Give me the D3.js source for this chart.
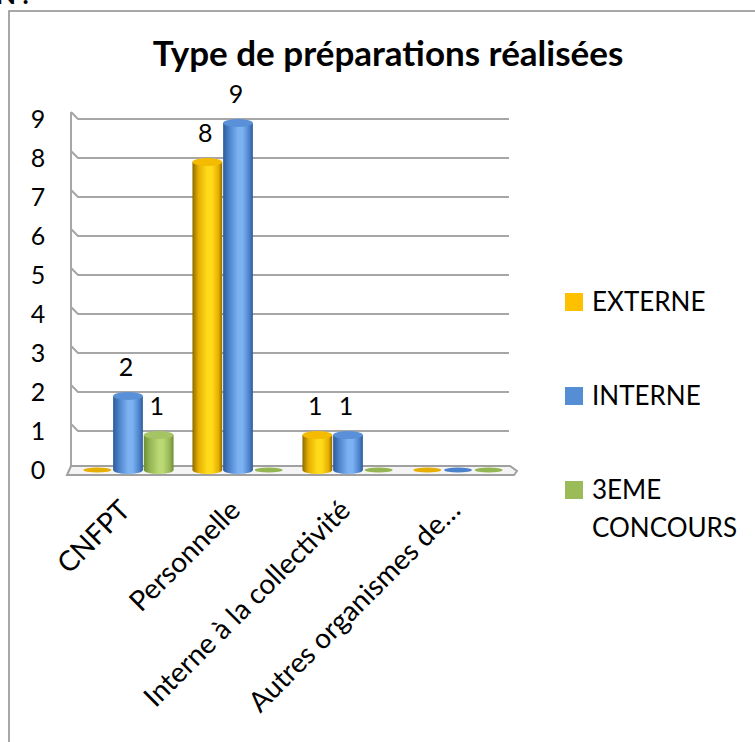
<!DOCTYPE html>
<html>
<head>
<meta charset="utf-8">
<script src="https://cdn.jsdelivr.net/npm/d3@7"></script>
<style>
    body { margin: 0; background: #fff; }
    svg { display: block; font-family: Lato, "Open Sans", sans-serif; }
</style>
</head>
<body>
<div id="chart"></div>
<script>
// données du graphique
const categories = ["CNFPT", "Personnelle", "Interne à la collectivité", "Autres organismes de…"];
const seriesNames = ["EXTERNE", "INTERNE", "3EME CONCOURS"];
const externe = [0, 8, 1, 0];
const interne = [2, 9, 1, 0];
const troisieme = [1, 0, 0, 0];
const yTicks = [0, 1, 2, 3, 4, 5, 6, 7, 8, 9];

const seriesValues = [externe, interne, troisieme];

// couleurs des cylindres
const palette = [
    { dark: "#8c6a00", mid: "#e6ae00", light: "#ffdb1a", flat: "#ffc000", cap: "#f5bb00" },
    { dark: "#2d5b98", mid: "#4c82cb", light: "#7db2f2", flat: "#558ed5", cap: "#5a90d8" },
    { dark: "#6f8d35", mid: "#93b552", light: "#bad874", flat: "#9bbb59", cap: "#a5c463" }
];

const width = 755, height = 742;

const svg = d3.select("#chart").append("svg")
    .attr("width", width)
    .attr("height", height);

// cadre (seuls les bords haut et gauche sont visibles)
svg.append("rect")
    .attr("x", 9).attr("y", 11)
    .attr("width", 800).attr("height", 800)
    .attr("fill", "none")
    .attr("stroke", "#8c8c8c")
    .attr("stroke-width", 1.5);

// texte coupé en haut à gauche
svg.append("text")
    .attr("x", -4).attr("y", 4)
    .attr("font-size", 26)
    .attr("font-weight", "bold")
    .text("N :");

// échelles
const x = d3.scaleBand()
    .domain(categories)
    .range([73, 513])
    .paddingInner(0.155)
    .paddingOuter(0.0775);

const xs = d3.scaleBand()
    .domain(seriesNames)
    .range([0, x.bandwidth()])
    .padding(0.03);

const y = d3.scaleLinear()
    .domain([0, 9])
    .range([470, 119]);

// titre
svg.append("text")
    .attr("x", 388).attr("y", 66)
    .attr("text-anchor", "middle")
    .attr("font-size", 35)
    .attr("font-weight", "bold")
    .text("Type de préparations réalisées");

// dégradés des cylindres
const defs = svg.append("defs");
palette.forEach((p, i) => {
    const g = defs.append("linearGradient")
        .attr("id", "cyl-" + i)
        .attr("x1", "0%").attr("x2", "100%")
        .attr("y1", "0%").attr("y2", "0%");
    [[0, p.dark], [0.2, p.mid], [0.5, p.light], [0.65, p.light], [0.88, p.mid], [1, p.dark]]
        .forEach(s => g.append("stop").attr("offset", s[0]).attr("stop-color", s[1]));
});

// mur gauche et lignes de quadrillage
const grid = svg.append("g");
grid.append("line")
    .attr("x1", 71).attr("x2", 71)
    .attr("y1", y(9) - 7).attr("y2", y(0))
    .attr("stroke", "#a6a6a6").attr("stroke-width", 2);

grid.selectAll("path.grid")
    .data(yTicks.filter(t => t > 0))
    .enter().append("path")
    .attr("class", "grid")
    .attr("d", t => `M71,${y(t) - 7}L78,${y(t)}H509`)
    .attr("fill", "none")
    .attr("stroke", "#a6a6a6")
    .attr("stroke-width", 2);

// plancher
svg.append("path")
    .attr("d", `M74,${y(0) - 4}H510L517,${y(0) + 1}L514,${y(0) + 5}H67L71,${y(0) - 4}Z`)
    .attr("fill", "#f4f4f4")
    .attr("stroke", "#a0a0a0")
    .attr("stroke-width", 2);

// étiquettes de l'axe Y
svg.append("g")
    .selectAll("text")
    .data(yTicks)
    .enter().append("text")
    .attr("x", 38)
    .attr("y", t => y(t))
    .attr("dy", "0.36em")
    .attr("text-anchor", "middle")
    .attr("font-size", 25)
    .text(t => t);

// cylindres
const bars = [];
categories.forEach((c, ci) => {
    seriesNames.forEach((s, si) => {
        bars.push({ cat: c, serie: s, si: si, value: seriesValues[si][ci] });
    });
});

const ry = 4;
const barG = svg.append("g")
    .selectAll("g")
    .data(bars)
    .enter().append("g")
    .attr("transform", d => `translate(${x(d.cat) + xs(d.serie)},0)`);

barG.each(function (d) {
    const g = d3.select(this);
    const w = xs.bandwidth();
    const p = palette[d.si];
    if (d.value === 0) {
        // disque plat
        g.append("ellipse")
            .attr("cx", w / 2).attr("cy", y(0))
            .attr("rx", w / 2 - 1).attr("ry", 2.5)
            .attr("fill", p.mid);
        return;
    }
    const top = y(d.value) + ry;
    const bottom = y(0);
    g.append("path")
        .attr("d", `M0,${top}V${bottom}A${w / 2},${ry} 0 0,0 ${w},${bottom}V${top}Z`)
        .attr("fill", `url(#cyl-${d.si})`);
    g.append("ellipse")
        .attr("cx", w / 2).attr("cy", top)
        .attr("rx", w / 2).attr("ry", ry)
        .attr("fill", p.cap);
});

// étiquettes de valeurs
barG.filter(d => d.value > 0)
    .append("text")
    .attr("x", xs.bandwidth() / 2 - 2)
    .attr("y", d => y(d.value) - 25)
    .attr("dy", "0.36em")
    .attr("text-anchor", "middle")
    .attr("font-size", 25)
    .text(d => d.value);

// étiquettes des catégories (inclinées)
svg.append("g")
    .selectAll("text")
    .data(categories)
    .enter().append("text")
    .attr("transform", c => `translate(${x(c) + x.bandwidth() / 2 + 4},${y(0) + 42}) rotate(-45)`)
    .attr("text-anchor", "end")
    .attr("font-size", 28)
    .text(c => c);

// légende
const legendY = [302, 396, 490];
const legend = svg.append("g")
    .selectAll("g")
    .data(seriesNames)
    .enter().append("g")
    .attr("transform", (s, i) => `translate(565,${legendY[i]})`);

legend.append("rect")
    .attr("x", 0).attr("y", -9)
    .attr("width", 18).attr("height", 18)
    .attr("fill", (s, i) => palette[i].flat);

legend.append("text")
    .attr("x", 27)
    .attr("y", 0)
    .attr("font-size", 26)
    .each(function (s) {
        const words = s === "3EME CONCOURS" ? ["3EME", "CONCOURS"] : [s];
        const t = d3.select(this);
        words.forEach((w, k) => {
            t.append("tspan")
                .attr("x", 27)
                .attr("dy", k === 0 ? "0.36em" : "1.45em")
                .text(w);
        });
    });
</script>
</body>
</html>
